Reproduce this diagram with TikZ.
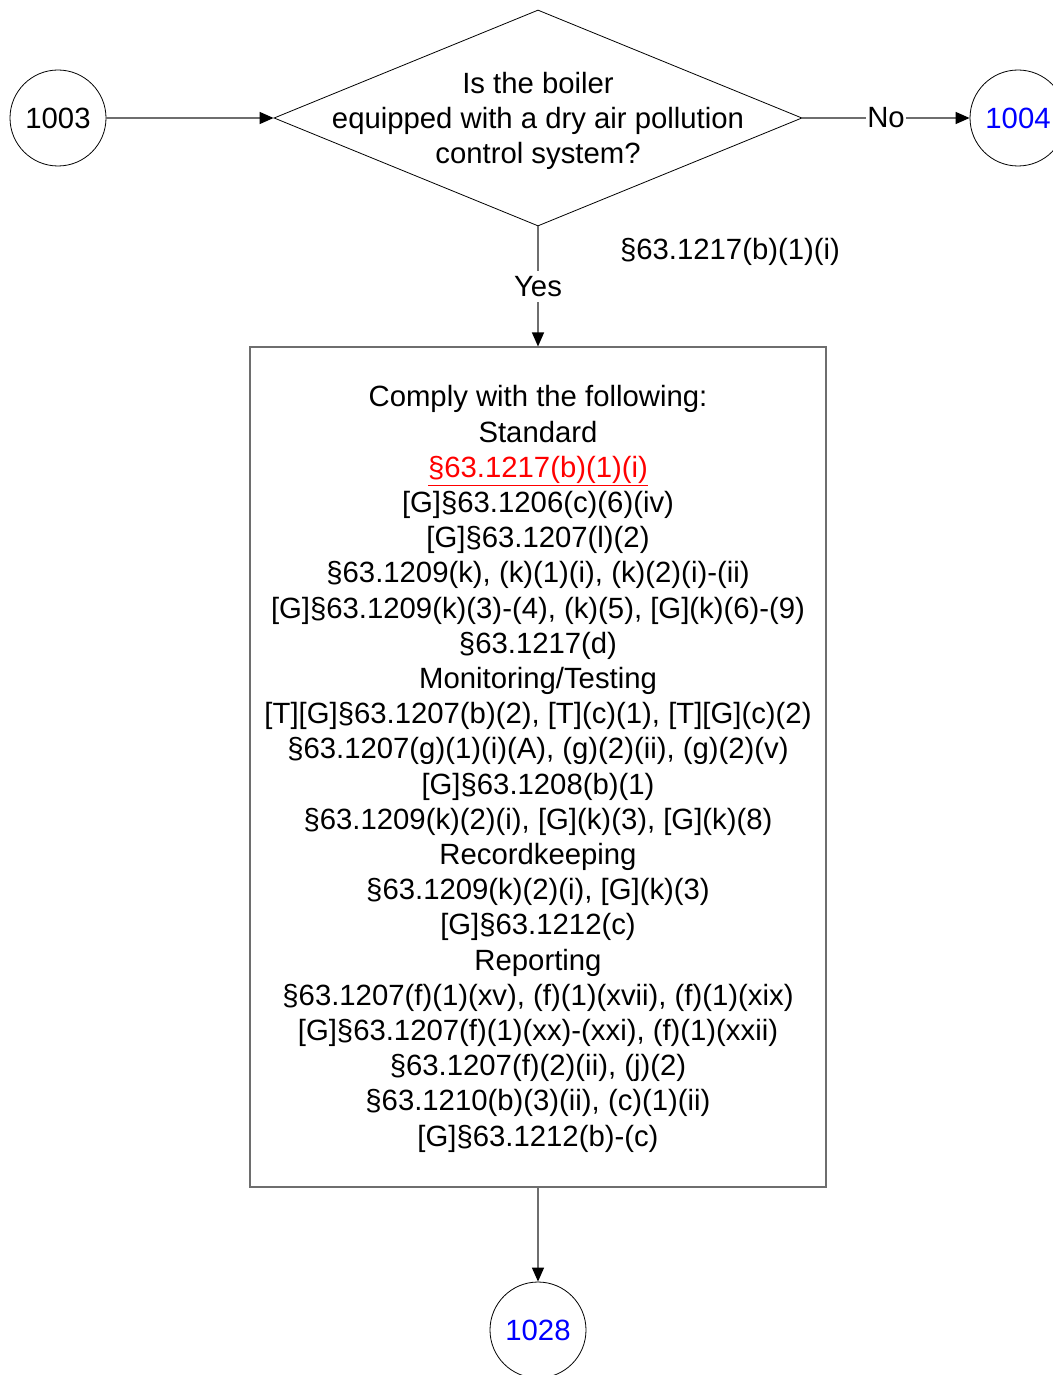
\documentclass[tikz,border=0pt]{standalone}
\usepackage{fontspec}
\setmainfont{Liberation Sans}
\usetikzlibrary{shapes.geometric,arrows.meta}
\definecolor{lgray}{RGB}{110,110,110}
\definecolor{lblue}{RGB}{0,0,255}
\definecolor{lred}{RGB}{255,0,0}
\begin{document}
\begin{tikzpicture}[x=1pt,y=-1pt,
  conn/.style={draw=lgray,line width=1.3pt,-{Triangle[length=14pt,width=12pt,fill=black,color=black]}},
  term/.style={circle,draw=black,line width=0.8pt,minimum size=96pt,inner sep=0pt,font=\fontsize{29.3}{34}\selectfont},
  lbl/.style={fill=white,inner xsep=1pt,inner ysep=5pt,font=\fontsize{29.3}{34}\selectfont},
  txt/.style={align=center,inner sep=0pt,font=\fontsize{29.3}{35.2}\selectfont}
]
\useasboundingbox (0,0) rectangle (1052,1375);
\fill[white] (0,0) rectangle (1052,1375);

\node[term] (n1003) at (58,118) {1003};
\node[term,text=lblue] (n1004) at (1018,118) {1004};
\node[term,text=lblue] (n1028) at (538,1330) {1028};

\node[diamond,draw=black,line width=0.8pt,minimum width=528pt,minimum height=216pt,inner sep=0pt] (dq) at (538,118) {};
\node[txt] (dqt) at (538,121) {Is the boiler\\equipped with a dry air pollution\\control system?};

\node[rectangle,draw=lgray,line width=1.1pt,minimum width=576pt,minimum height=840pt,inner sep=0pt] (box) at (538,767) {};
\node[txt] (boxt) at (538,769) {Comply with the following:\\
Standard\\
\textcolor{lred}{\underline{§63.1217(b)(1)(i)}}\\
{[G]}§63.1206(c)(6)(iv)\\
{[G]}§63.1207(l)(2)\\
§63.1209(k), (k)(1)(i), (k)(2)(i)-(ii)\\
{[G]}§63.1209(k)(3)-(4), (k)(5), [G](k)(6)-(9)\\
§63.1217(d)\\
Monitoring/Testing\\
{[T]}[G]§63.1207(b)(2), [T](c)(1), [T][G](c)(2)\\
§63.1207(g)(1)(i)(A), (g)(2)(ii), (g)(2)(v)\\
{[G]}§63.1208(b)(1)\\
§63.1209(k)(2)(i), [G](k)(3), [G](k)(8)\\
Recordkeeping\\
§63.1209(k)(2)(i), [G](k)(3)\\
{[G]}§63.1212(c)\\
Reporting\\
§63.1207(f)(1)(xv), (f)(1)(xvii), (f)(1)(xix)\\
{[G]}§63.1207(f)(1)(xx)-(xxi), (f)(1)(xxii)\\
§63.1207(f)(2)(ii), (j)(2)\\
§63.1210(b)(3)(ii), (c)(1)(ii)\\
{[G]}§63.1212(b)-(c)};

\node[txt] (ref) at (730,252) {§63.1217(b)(1)(i)};

\draw[conn] (n1003.east) -- (dq.west);
\draw[conn] (dq.east) -- node[lbl,pos=0.5] (no) {No} (n1004.west);
\draw[conn] (dq.south) -- node[lbl,pos=0.5] (yes) {Yes} (box.north);
\draw[conn] (box.south) -- (n1028.north);
\end{tikzpicture}
\end{document}
